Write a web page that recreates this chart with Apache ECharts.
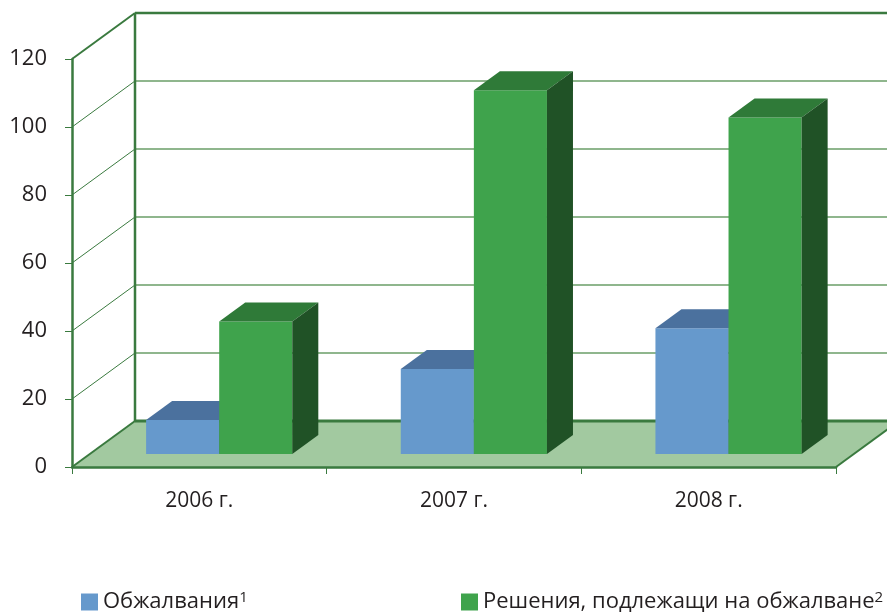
<!DOCTYPE html>
<html>
<head>
<meta charset="utf-8">
<script src="https://cdn.jsdelivr.net/npm/echarts@6/dist/echarts.min.js"></script>
<style>
    html, body {margin: 0; padding: 0; background: #fff;}
    #chart {width: 887px; height: 613px;}
</style>
</head>
<body>
<div id="chart"></div>
<script type="text/javascript">
    const categories = ['2006 г.', '2007 г.', '2008 г.'];
    const appeals = [10, 25, 37];
    const decisions = [39, 107, 99];
    const yTicks = [0, 20, 40, 60, 80, 100, 120];
    const seriesNames = ['Обжалвания', 'Решения, подлежащи на обжалване'];
    const footnotes = ['1', '2'];

    // depth of the 3d box, in pixels
    const DX = 63, DY = -46;
    const DARK = '#3a7a3f';
    const FONT = 'Open Sans';

    function frameItem(params, api) {
        let v = api.value(1);
        let cs = params.coordSys;
        let L = cs.x, R = cs.x + cs.width;
        let y = api.coord([0, v])[1];
        let y0 = api.coord([0, 0])[1];
        let kids = [];
        if (v === 0) {
            kids.push({type: 'polygon', shape: {points: [[L, y], [R, y], [R + DX, y + DY], [L + DX, y + DY]]},
                style: {fill: '#a2c9a0'}});
            kids.push({type: 'line', shape: {x1: L + DX, y1: y + DY, x2: R + DX, y2: y + DY}, style: {stroke: DARK, lineWidth: 3}});
            kids.push({type: 'line', shape: {x1: L, y1: y, x2: L + DX, y2: y + DY}, style: {stroke: DARK, lineWidth: 2}});
            kids.push({type: 'line', shape: {x1: R, y1: y, x2: R + DX, y2: y + DY}, style: {stroke: DARK, lineWidth: 2}});
        } else if (v === yTicks[yTicks.length - 1]) {
            kids.push({type: 'line', shape: {x1: L, y1: y, x2: L + DX, y2: y + DY}, style: {stroke: DARK, lineWidth: 2}});
            kids.push({type: 'line', shape: {x1: L + DX, y1: y + DY, x2: R + DX, y2: y + DY}, style: {stroke: DARK, lineWidth: 2.5}});
            kids.push({type: 'line', shape: {x1: L + DX, y1: y0 + DY, x2: L + DX, y2: y + DY}, style: {stroke: DARK, lineWidth: 2.5}});
        } else {
            kids.push({type: 'line', shape: {x1: L, y1: y, x2: L + DX, y2: y + DY}, style: {stroke: DARK, lineWidth: 1}});
            kids.push({type: 'line', shape: {x1: L + DX, y1: y + DY, x2: R + DX, y2: y + DY}, style: {stroke: '#8fb68d', lineWidth: 2}});
        }
        return {type: 'group', children: kids};
    }

    function barRenderer(xFrom, xTo, colors) {
        const d0 = 0.283, d1 = 0.696;
        return function (params, api) {
            let idx = api.value(0);
            let top = api.coord([idx, api.value(1)]);
            let base = api.coord([idx, 0]);
            let bw = api.size([1, 0])[0];
            let fx = d0 * DX, fy = d0 * DY;
            let ddx = (d1 - d0) * DX, ddy = (d1 - d0) * DY;
            let x1 = top[0] + xFrom * bw + fx;
            let x2 = top[0] + xTo * bw + fx;
            let yt = top[1] + fy;
            let yb = base[1] + fy;
            return {
                type: 'group',
                children: [
                    {type: 'polygon', shape: {points: [[x1, yt], [x2, yt], [x2, yb], [x1, yb]]}, style: {fill: colors[0]}},
                    {type: 'polygon', shape: {points: [[x1, yt], [x2, yt], [x2 + ddx, yt + ddy], [x1 + ddx, yt + ddy]]}, style: {fill: colors[1]}},
                    {type: 'polygon', shape: {points: [[x2, yt], [x2 + ddx, yt + ddy], [x2 + ddx, yb + ddy], [x2, yb]]}, style: {fill: colors[2]}}
                ]
            };
        };
    }

    function legendOf(i, left) {
        return {
            data: [seriesNames[i]],
            left: left,
            top: 590,
            padding: 0,
            icon: 'rect',
            itemWidth: 17,
            itemHeight: 17,
            selectedMode: false,
            formatter: function (name) {
                return '{a|' + name + '}{s|' + footnotes[i] + '}';
            },
            textStyle: {
                rich: {
                    a: {fontFamily: FONT, fontSize: 22, color: '#231f20', lineHeight: 24},
                    s: {fontFamily: FONT, fontSize: 15, color: '#231f20', lineHeight: 15, verticalAlign: 'top'}
                }
            }
        };
    }

    let myChart = echarts.init(document.getElementById('chart'));
    let option = {
        animation: false,
        grid: {left: 72, top: 59, width: 764, height: 408},
        legend: [legendOf(0, 81), legendOf(1, 461)],
        xAxis: {
            type: 'category',
            data: categories,
            z: 10,
            axisLine: {lineStyle: {color: DARK, width: 2.5}},
            axisTick: {show: true, length: 7, lineStyle: {color: DARK, width: 1}},
            axisLabel: {fontFamily: FONT, fontSize: 21, color: '#231f20', margin: 24}
        },
        yAxis: {
            type: 'value',
            min: 0,
            max: 120,
            interval: 20,
            z: 10,
            axisLine: {show: true, lineStyle: {color: DARK, width: 2.5}},
            axisTick: {show: true, length: 7, lineStyle: {color: DARK, width: 1}},
            axisLabel: {fontFamily: FONT, fontSize: 22, color: '#231f20', margin: 25},
            splitLine: {show: false}
        },
        series: [
            {
                type: 'custom',
                z: 1,
                silent: true,
                renderItem: frameItem,
                data: yTicks.map(function (v) { return [0, v]; })
            },
            {
                name: seriesNames[0],
                type: 'custom',
                z: 3,
                itemStyle: {color: '#6699cc'},
                renderItem: barRenderer(-0.279, 0.008, ['#6699cc', '#4b719e', '#3d5f87']),
                data: appeals.map(function (v, i) { return [i, v]; })
            },
            {
                name: seriesNames[1],
                type: 'custom',
                z: 4,
                itemStyle: {color: '#3fa34c'},
                renderItem: barRenderer(0.008, 0.295, ['#3fa34c', '#2f7a38', '#205226']),
                data: decisions.map(function (v, i) { return [i, v]; })
            }
        ]
    };
    myChart.setOption(option);
</script>
</body>
</html>
